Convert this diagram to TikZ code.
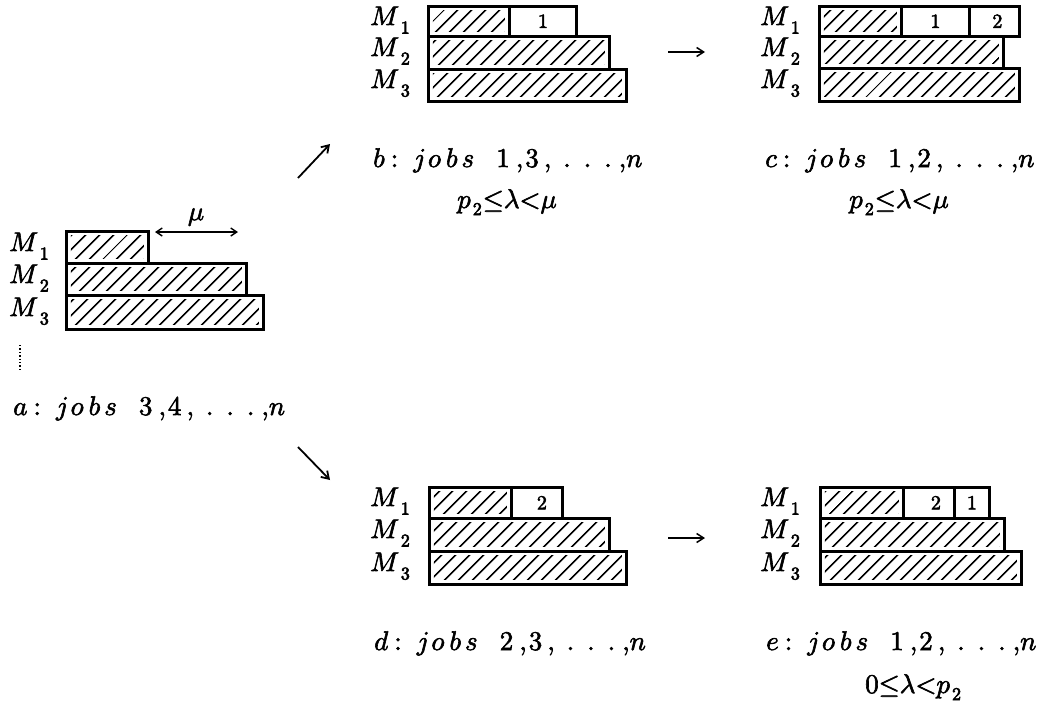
\RequirePackage{fix-cm}
\documentclass[tikz,border=0pt]{standalone}
\DeclareFontShape{OML}{cmm}{m}{it}{<->cmmi10}{}
\DeclareFontShape{OMS}{cmsy}{m}{n}{<->cmsy10}{}
\DeclareFontShape{OT1}{cmr}{m}{n}{<->cmr10}{}
\usetikzlibrary{patterns.meta,arrows.meta}
\newcommand\heavy{\special{pdf:code 2 Tr 0.6 w}}
\newcommand\Mlab[1]{$M$\kern1.5pt\raisebox{-8.5pt}{\fontsize{18}{18}\selectfont$#1$}}
\newcommand\subtwo{\raisebox{-7pt}{\fontsize{18}{18}\selectfont$2$}}
\newcommand\jobline[4]{$#1\kern6pt{:}\kern15pt j\kern2pt o\kern5pt b\kern4pt s\kern22pt #2\kern6pt{,}\kern2pt #3\kern5pt{,}\kern12pt.\kern13pt.\kern13pt.\kern7pt{,}\kern0pt #4$}
\begin{document}
\begin{tikzpicture}[x=1pt,y=-1pt,
  every node/.style={font=\fontsize{27}{30}\selectfont\heavy},
  bx/.style={draw, line width=2.8pt, inner sep=0pt, anchor=north west},
  hatch/.style={bx, path picture={\fill[pattern={Lines[angle=45,distance=10.5pt,line width=1.8pt]}] ([shift={(4.5pt,4.5pt)}]path picture bounding box.south west) rectangle ([shift={(-4.5pt,-4.5pt)}]path picture bounding box.north east);}},
  job/.style={bx, font=\fontsize{20}{22}\selectfont\heavy},
  arr/.style={line width=1.8pt, -{Straight Barb[length=7pt,width=9pt]}},
  mlab/.style={anchor=base west, inner sep=0pt},
  txt/.style={anchor=base west, inner sep=0pt}
]
\useasboundingbox (0,0) rectangle (1048,715);

% panel a
\node[hatch, minimum width=82pt, minimum height=32pt] (a1) at (65,230) {};
\node[hatch, minimum width=180pt, minimum height=32pt] (a2) at (65,262) {};
\node[hatch, minimum width=197pt, minimum height=34pt] (a3) at (65,294) {};
\node[mlab] (am1) at (9,251) {\Mlab{1}};
\node[mlab] (am2) at (9,283) {\Mlab{2}};
\node[mlab] (am3) at (9,316) {\Mlab{3}};
\node (mu) at (196,217) {$\mu$};
\coordinate (mul) at (155,232);
\coordinate (mur) at (238,232);
\draw[line width=1.4pt, {Straight Barb[length=6pt,width=8pt]}-{Straight Barb[length=6pt,width=8pt]}] (mul) -- (mur);
\coordinate (dt1) at (20,345);
\coordinate (dt2) at (20,372);
\draw[dotted, line width=1.4pt] (dt1) -- (dt2);
\node[txt] (ta) at (13,415) {\jobline{a}{3}{4}{n}};

% panel b
\node[hatch, minimum width=81pt, minimum height=30pt] (b1) at (427,5) {};
\node[job, minimum width=67pt, minimum height=30pt] (b1j) at (508,5) {$1$};
\node[hatch, minimum width=181pt, minimum height=33pt] (b2) at (427,35) {};
\node[hatch, minimum width=198pt, minimum height=32pt] (b3) at (427,68) {};
\node[mlab] (bm1) at (370,25) {\Mlab{1}};
\node[mlab] (bm2) at (370,56) {\Mlab{2}};
\node[mlab] (bm3) at (370,88) {\Mlab{3}};
\node[txt] (tb) at (373,167) {\jobline{b}{1}{3}{n}};
\node[txt] (pb) at (457,208) {$p$\kern2pt\subtwo$\kern1pt{\leq}\lambda{<}\mu$};

% panel c
\node[hatch, minimum width=82pt, minimum height=30pt] (c1) at (818,5) {};
\node[job, minimum width=68pt, minimum height=30pt] (c1j) at (900,5) {$1$};
\node[job, minimum width=50pt, minimum height=30pt] (c1k) at (968,5) {\hspace{6pt}$2$};
\node[hatch, minimum width=184pt, minimum height=32pt] (c2) at (818,35) {};
\node[hatch, minimum width=200pt, minimum height=33pt] (c3) at (818,67) {};
\node[mlab] (cm1) at (760,25) {\Mlab{1}};
\node[mlab] (cm2) at (760,56) {\Mlab{2}};
\node[mlab] (cm3) at (760,88) {\Mlab{3}};
\node[txt] (tc) at (765,167) {\jobline{c}{1}{2}{n}};
\node[txt] (pc) at (849,208) {$p$\kern2pt\subtwo$\kern1pt{\leq}\lambda{<}\mu$};

% panel d
\node[hatch, minimum width=82pt, minimum height=31pt] (d1) at (428,486) {};
\node[job, minimum width=51pt, minimum height=31pt] (d1j) at (510,486) {\hspace{10pt}$2$};
\node[hatch, minimum width=180pt, minimum height=33pt] (d2) at (428,517) {};
\node[hatch, minimum width=197pt, minimum height=33pt] (d3) at (428,550) {};
\node[mlab] (dm1) at (370,506) {\Mlab{1}};
\node[mlab] (dm2) at (370,538) {\Mlab{2}};
\node[mlab] (dm3) at (370,571) {\Mlab{3}};
\node[txt] (td) at (374,650) {\jobline{d}{2}{3}{n}};

% panel e
\node[hatch, minimum width=83pt, minimum height=31pt] (e1) at (819,486) {};
\node[job, minimum width=51pt, minimum height=31pt] (e1j) at (902,486) {\hspace{14pt}$2$};
\node[job, minimum width=35pt, minimum height=31pt] (e1k) at (953,486) {$1$};
\node[hatch, minimum width=184pt, minimum height=33pt] (e2) at (819,517) {};
\node[hatch, minimum width=201pt, minimum height=33pt] (e3) at (819,550) {};
\node[mlab] (em1) at (760,506) {\Mlab{1}};
\node[mlab] (em2) at (760,538) {\Mlab{2}};
\node[mlab] (em3) at (760,571) {\Mlab{3}};
\node[txt] (te) at (766,650) {\jobline{e}{1}{2}{n}};
\node[txt] (pe) at (865,693) {$0{\leq}\lambda{<}p$\kern2pt\subtwo};

% arrows
\coordinate (u1) at (298,178);
\coordinate (u2) at (330,144);
\draw[arr] (u1) -- (u2);
\coordinate (w1) at (298,447);
\coordinate (w2) at (330,480);
\draw[arr] (w1) -- (w2);
\coordinate (h1) at (668,52);
\coordinate (h2) at (705,52);
\draw[arr, line width=1.5pt] (h1) -- (h2);
\coordinate (k1) at (668,538);
\coordinate (k2) at (705,538);
\draw[arr, line width=1.5pt] (k1) -- (k2);
\end{tikzpicture}
\end{document}
